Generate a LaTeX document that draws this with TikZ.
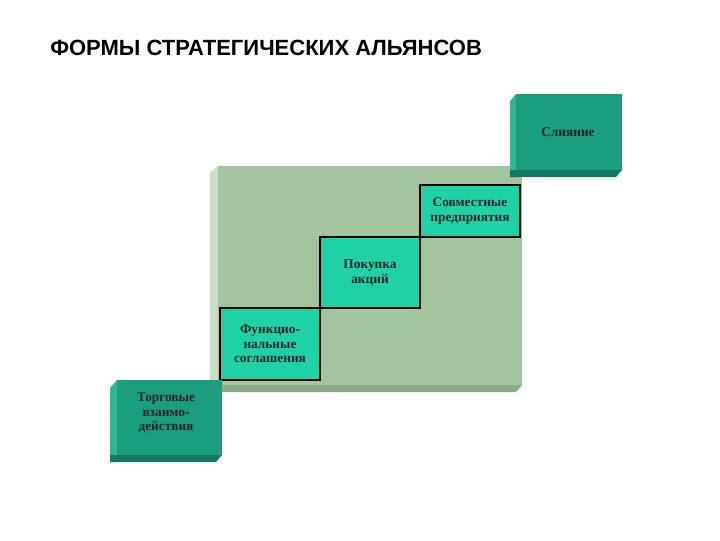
\documentclass[tikz,border=0pt]{standalone}
\usepackage{fontspec}
\setmainfont{Liberation Serif}
\newfontfamily\titlefont{Liberation Sans}
\definecolor{dk}{HTML}{1A9E7E}
\definecolor{dkb}{HTML}{137A60}
\definecolor{dkl}{HTML}{2DB892}
\definecolor{lt}{HTML}{1ED2A6}
\definecolor{pn}{HTML}{A2C49E}
\definecolor{pnl}{HTML}{C9DEC2}
\definecolor{pnb}{HTML}{8CAA88}
\begin{document}
\begin{tikzpicture}[x=0.75pt,y=-0.75pt,
  lbl/.style={font=\fontsize{10}{11}\selectfont\bfseries, align=center, text=black!85},
  step box/.style={draw=black, line width=0.8pt, fill=lt}]
\useasboundingbox (0,0) rectangle (720,540);
\node[anchor=west, font=\titlefont\bfseries\fontsize{16.5}{19}\selectfont, inner sep=0pt] (title) at (50,48) {ФОРМЫ СТРАТЕГИЧЕСКИХ АЛЬЯНСОВ};
% panel
\fill[pnl] (210,172) -- (218,166) -- (218,392) -- (210,392) -- cycle;
\fill[pnb] (210,385) -- (522,385) -- (516,392) -- (210,392) -- cycle;
\fill[pn] (218,166) rectangle (522,385);
% Слияние
\fill[dkl] (510,101) -- (516,94) -- (516,177) -- (510,177) -- cycle;
\fill[dkb] (510,170) -- (622,170) -- (616,177) -- (510,177) -- cycle;
\fill[dk] (516,94) rectangle (622,170);
\node[lbl] (s5) at (568,132) {Слияние};
% steps
\draw[step box] (420,185) rectangle (520,237);
\node[lbl] (s4) at (470,211) {Совместные\\предприятия};
\draw[step box] (320,237) rectangle (420,308);
\node[lbl] (s3) at (370,272.5) {Покупка\\акций};
\draw[step box] (220,308) rectangle (320,380);
\node[lbl] (s2) at (270,344) {Функцио-\\нальные\\соглашения};
% Торговые
\fill[dkl] (110,388) -- (117,380) -- (117,462) -- (110,462) -- cycle;
\fill[dkb] (110,455) -- (222,455) -- (216,462) -- (110,462) -- cycle;
\fill[dk] (117,380) rectangle (222,455);
\node[lbl] (s1) at (166,413) {Торговые\\взаимо-\\действия};
\end{tikzpicture}
\end{document}
